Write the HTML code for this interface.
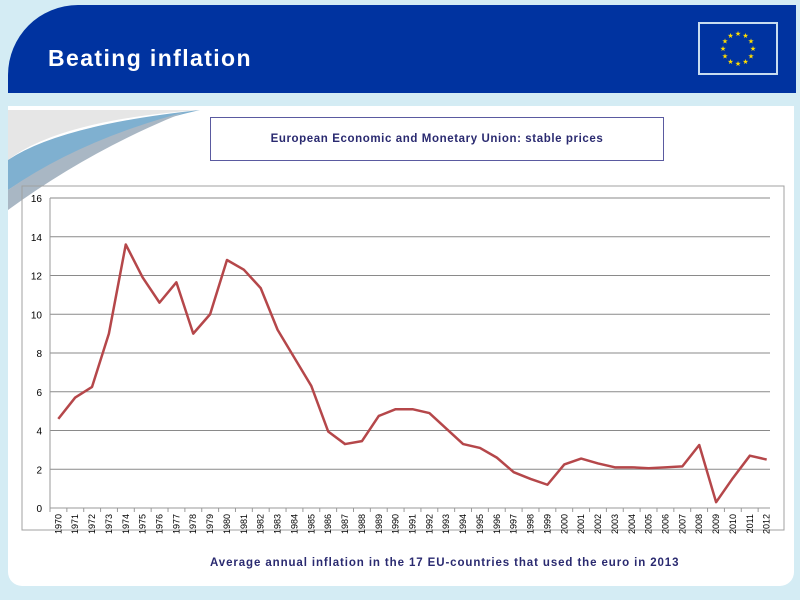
<!DOCTYPE html>
<html><head><meta charset="utf-8"><style>
body{margin:0;width:800px;height:600px;overflow:hidden;background:#d4ecf4;font-family:"Liberation Sans",sans-serif;position:relative}
#header{position:absolute;left:8px;top:5px;width:788px;height:88px;background:#0033a0;border-radius:70px 0 0 0}
#title{position:absolute;left:48px;top:45px;color:#fff;font-weight:bold;font-size:23px;letter-spacing:1.4px}
#flag{position:absolute;left:698px;top:22px;width:76px;height:49px;background:#0033a0;border:2px solid #c8dcef}
#panel{position:absolute;left:8px;top:106px;width:786px;height:480px;background:#fff;border-radius:0 0 14px 14px}
#subtitle{position:absolute;left:210px;top:117px;width:452px;height:42px;border:1px solid #5a5aa0;background:#fff;text-align:center;line-height:42px;font-size:11.5px;font-weight:bold;color:#2a2a70;letter-spacing:0.6px}
#caption{position:absolute;left:210px;top:557px;font-size:11.5px;font-weight:bold;color:#2a2a70;letter-spacing:0.9px}
svg{position:absolute;left:0;top:0}
</style></head><body>
<div id="header"></div>
<div id="title">Beating inflation</div>
<div id="flag"><svg width="76" height="49" id="flagsvg"></svg></div>
<div id="panel"></div>
<svg width="800" height="600">
<path d="M8,110 L200,110 Q60,120 8,160 Z" fill="#e6e6e6"/>
<path d="M8,160 Q60,125 200,110 Q90,135 8,190 Z" fill="#7fb0d0"/>
<path d="M8,190 Q80,140 185,112 Q90,150 8,210 Z" fill="#a9b7c4"/>
</svg>
<div id="subtitle">European Economic and Monetary Union: stable prices</div>
<svg id="chart" width="800" height="600"></svg>
<div id="caption">Average annual inflation in the 17 EU-countries that used the euro in 2013</div>
<script>
const years=[];for(let y=1970;y<=2012;y++)years.push(String(y));
const inflation=[4.6,5.7,6.25,9.0,13.6,11.9,10.6,11.65,9.0,10.0,12.8,12.3,11.35,9.2,7.75,6.3,3.95,3.3,3.45,4.75,5.1,5.1,4.9,4.1,3.3,3.1,2.6,1.85,1.5,1.2,2.25,2.55,2.3,2.1,2.1,2.05,2.1,2.15,3.25,0.3,1.55,2.7,2.5];
const yTicks=[0,2,4,6,8,10,12,14,16];
const NS="http://www.w3.org/2000/svg";
const svg=document.getElementById('chart');
function mk(t,a){const e=document.createElementNS(NS,t);for(const k in a)e.setAttribute(k,a[k]);svg.appendChild(e);return e;}
const x0=50,xEnd=775,yTop=198,yBot=508;
const xs=i=>x0+8.3+i*(xEnd-x0-16.6)/(years.length-1);
const ys=v=>yBot-(v/16)*(yBot-yTop);
let frame=mk('rect',{x:22,y:186,width:762,height:344,fill:'none',stroke:'#a0a0a0'});


yTicks.forEach(t=>{
 let g=mk('line',{x1:x0,x2:770,y1:ys(t),y2:ys(t),stroke:t===0?'#999':'#8a8a8a','stroke-width':1});
 
 
 let l=mk('text',{x:42,y:ys(t)+4,'text-anchor':'end','font-size':10,fill:'#000','font-family':'Liberation Sans'});
 l.textContent=t;
 
 
});
mk('line',{x1:x0,x2:x0,y1:yTop,y2:yBot,stroke:'#999'});
years.forEach((yr,i)=>{
 const bx=x0+i*(xEnd-x0)/years.length;
 mk('line',{x1:bx,x2:bx,y1:yBot,y2:yBot+4,stroke:'#999'});
 let l=mk('text',{transform:`translate(${xs(i)+3},${yBot+6}) rotate(-90)`,'text-anchor':'end','font-size':9,fill:'#000','font-family':'Liberation Sans'});
 l.textContent=yr;
 
 
});
let p=mk('polyline',{points:inflation.map((v,i)=>xs(i)+','+ys(v)).join(' '),fill:'none',stroke:'#b5474a','stroke-width':2.5,'stroke-linejoin':'round'});


const fs=document.getElementById('flagsvg');
for(let k=0;k<12;k++){const a=k*Math.PI/6;const t=document.createElementNS(NS,'text');
t.setAttribute('x',38+15*Math.sin(a));t.setAttribute('y',27-15*Math.cos(a));t.setAttribute('fill','#ffdd00');t.setAttribute('font-size','7');t.setAttribute('text-anchor','middle');t.textContent='★';fs.appendChild(t);}
</script>
</body></html>
